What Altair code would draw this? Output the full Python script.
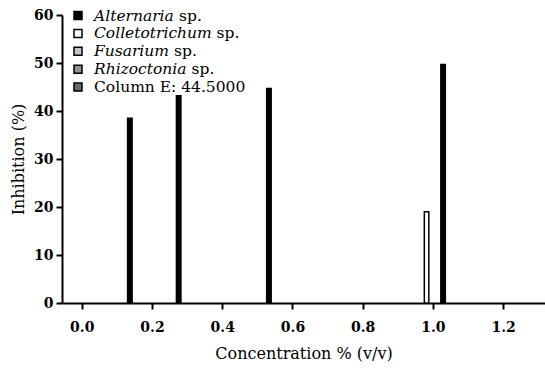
import altair as alt
import pandas as pd

# ---- data ----
bar_series = ["Alternaria", "Alternaria", "Alternaria", "Colletotrichum", "Alternaria"]
bar_conc = [0.137, 0.276, 0.533, 0.982, 1.029]
bar_inhib = [38.5, 43.2, 44.7, 19.0, 49.7]

legend_names = ["Alternaria", "Colletotrichum", "Fusarium", "Rhizoctonia", "Column E: 44.5000"]
legend_suffix = ["sp.", "sp.", "sp.", "sp.", ""]
legend_italic = [True, True, True, True, False]
legend_colors = ["#000000", "#ffffff", "#c4c4c4", "#939393", "#6a6a6a"]

x_ticks = [0.0, 0.2, 0.4, 0.6, 0.8, 1.0, 1.2]
y_ticks = [0, 10, 20, 30, 40, 50, 60]

FONT = "DejaVu Serif"
W, H = 483, 288

bars = pd.DataFrame({"series": bar_series, "conc": bar_conc, "inhib": bar_inhib})
color_scale = alt.Scale(domain=legend_names[:4], range=legend_colors[:4])

xscale = alt.Scale(domain=[-0.042, 1.305], nice=False, zero=False)
yscale = alt.Scale(domain=[0, 60], nice=False)

base = alt.Chart(bars).mark_bar(size=4.5, stroke="black", strokeWidth=1.5).encode(
    x=alt.X("conc:Q", scale=xscale,
            axis=alt.Axis(values=x_ticks, format=".1f", title="Concentration % (v/v)",
                          labelFont=FONT, labelFontSize=14, labelFontWeight="bold",
                          labelColor="black", labelPadding=11,
                          tickSize=6, tickWidth=2, tickColor="black",
                          domainWidth=2, domainColor="black", grid=False,
                          titleFont=FONT, titleFontSize=16, titleFontWeight="normal",
                          titleColor="black", titleY=50, titleBaseline="middle")),
    y=alt.Y("inhib:Q", scale=yscale,
            axis=alt.Axis(values=y_ticks, title="Inhibition (%)",
                          labelFont=FONT, labelFontSize=14, labelFontWeight="bold",
                          labelColor="black", labelPadding=3,
                          tickSize=6, tickWidth=2, tickColor="black",
                          domainWidth=2, domainColor="black", grid=False,
                          titleFont=FONT, titleFontSize=16, titleFontWeight="normal",
                          titleColor="black", titleX=-44, titleY=H / 2,
                          titleBaseline="middle", titleAlign="center", titleAngle=-90)),
    color=alt.Color("series:N", scale=color_scale, legend=None),
)

# ---- manual legend (pixel positions inside plot area) ----
row_y = [0.5 + 17.9 * i for i in range(5)]
sp_x = [117, 154.5, 112, 129.5, 0]
leg = pd.DataFrame({
    "name": legend_names, "suffix": legend_suffix, "italic": legend_italic,
    "color": legend_colors, "py": row_y, "spx": sp_x,
})

swatch = alt.Chart(leg).mark_square(size=64, stroke="black", strokeWidth=1.5, opacity=1).encode(
    x=alt.value(16), y=alt.Y("py:Q", scale=None),
    fill=alt.Fill("color:N", scale=None),
)
name_it = alt.Chart(leg).transform_filter("datum.italic").mark_text(
    font=FONT, fontSize=15.5, fontStyle="italic", align="left", baseline="middle", color="black"
).encode(x=alt.value(32), y=alt.Y("py:Q", scale=None), text="name:N")
name_rm = alt.Chart(leg).transform_filter("!datum.italic").mark_text(
    font=FONT, fontSize=15.5, align="left", baseline="middle", color="black"
).encode(x=alt.value(32), y=alt.Y("py:Q", scale=None), text="name:N")
suffix = alt.Chart(leg).transform_filter("datum.italic").mark_text(
    font=FONT, fontSize=15.5, align="left", baseline="middle", color="black"
).encode(x=alt.X("spx:Q", scale=None), y=alt.Y("py:Q", scale=None), text="suffix:N")

chart = alt.layer(base, swatch, name_it, name_rm, suffix).properties(
    width=W, height=H,
    autosize=alt.AutoSizeParams(type="none"),
    padding={"left": 62, "top": 15, "right": 0, "bottom": 66},
).configure(
    background="white",
    view=alt.ViewConfig(stroke="transparent", strokeWidth=0),
)

chart.save("out.html", embed_options={"renderer": "svg", "actions": False})
